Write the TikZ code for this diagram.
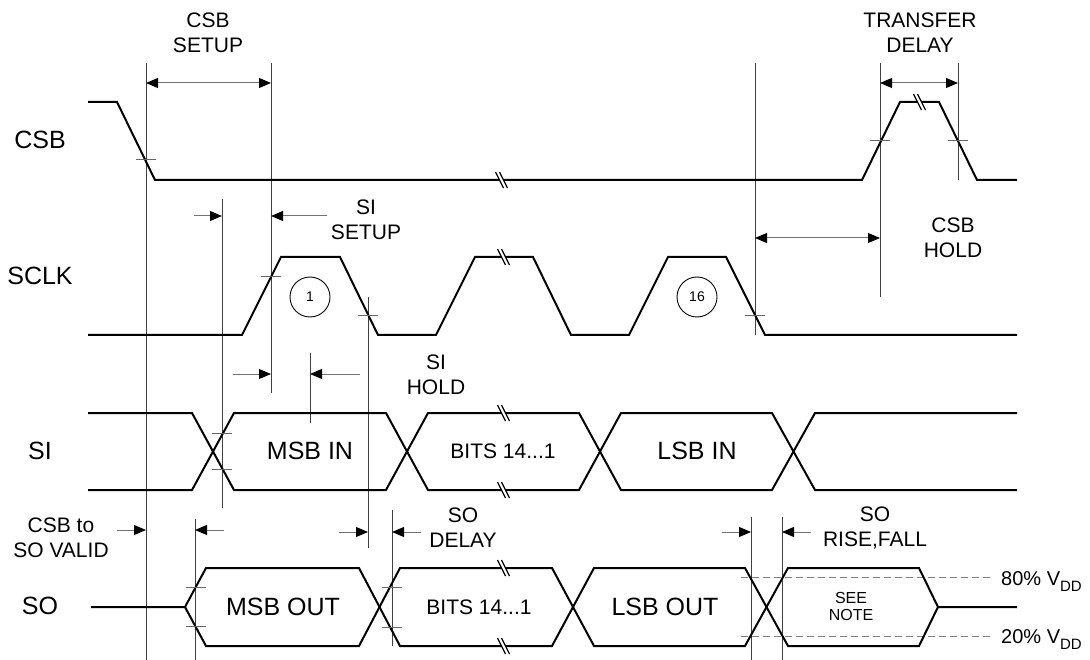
\documentclass[tikz,border=0pt]{standalone}
\usepackage{fontspec}
\setmainfont{Liberation Sans}
\usetikzlibrary{arrows.meta}
\begin{document}
\begin{tikzpicture}[x=1pt,y=-1pt,
  wave/.style={line width=2pt, black, line join=miter},
  guide/.style={line width=1pt, black!75},
  tickm/.style={line width=1pt, black!60},
  dashm/.style={line width=1pt, black!50, dash pattern=on 7pt off 4pt},
  tipk/.tip={Triangle[length=12pt,width=10pt,color=black]},
  dimarrow/.style={line width=1pt, black!55, -tipk},
  dimboth/.style={line width=1pt, black!55, tipk-tipk},
  sig/.style={font=\fontsize{25}{30}\selectfont, inner sep=0pt},
  lab/.style={font=\fontsize{21}{25}\selectfont, align=center, inner sep=0pt},
  wt/.style={font=\fontsize{25}{30}\selectfont, inner sep=0pt},
  wts/.style={font=\fontsize{21}{25}\selectfont, inner sep=0pt},
  cnum/.style={draw, circle, line width=0.9pt, minimum size=40pt, inner sep=0pt, font=\fontsize{14}{16}\selectfont},
  brk/.pic={
    \fill[white] (-6.5,-8) -- (-2.5,-8) -- (5.5,8) -- (1.5,8) -- cycle;
    \draw[line width=1.3pt] (-6.5,-8) -- (1.5,8) (-2.5,-8) -- (5.5,8);
  }
]
\useasboundingbox (0,0) rectangle (1090,660);
\fill[white] (0,0) rectangle (1090,660);

% ---- guide lines ----
\coordinate (g1t) at (146,63);  \coordinate (g1b) at (146,660);
\coordinate (g2t) at (271,63);  \coordinate (g2b) at (271,393);
\coordinate (g3t) at (222,199); \coordinate (g3b) at (222,508);
\coordinate (g4t) at (310,353); \coordinate (g4b) at (310,423);
\coordinate (g5t) at (195,519); \coordinate (g5b) at (195,660);
\coordinate (g6t) at (368,297); \coordinate (g6b) at (368,548);
\coordinate (g7t) at (392,510); \coordinate (g7b) at (392,646);
\coordinate (g8t) at (755,63);  \coordinate (g8b) at (755,335);
\coordinate (g9t) at (751,517); \coordinate (g9b) at (751,660);
\coordinate (g10t) at (782,517); \coordinate (g10b) at (782,660);
\coordinate (g11t) at (880,63); \coordinate (g11b) at (880,297);
\coordinate (g12t) at (958,63); \coordinate (g12b) at (958,180);
\foreach \g in {1,...,12} \draw[guide] (g\g t) -- (g\g b);

% ---- dashed levels ----
\draw[dashm] (741,577) -- (993,577);
\draw[dashm] (741,636) -- (993,636);

% ---- waveforms ----
\draw[wave] (88,102) -- (117,102) -- (155,180) -- (862,180) -- (900,102) -- (939,102) -- (977,180) -- (1017,180);
\draw[wave] (88,335) -- (242,335) -- (281,257) -- (340,257) -- (378,335) -- (436,335) -- (475,257) -- (533,257) -- (571,335) -- (629,335) -- (668,257) -- (726,257) -- (765,335) -- (1017,335);
\draw[wave] (88,413) -- (192,413) -- (234,490) -- (386,490) -- (428,413) -- (579,413) -- (621,490) -- (772,490) -- (815,413) -- (1017,413);
\draw[wave] (88,490) -- (192,490) -- (234,413) -- (386,413) -- (428,490) -- (579,490) -- (621,413) -- (772,413) -- (815,490) -- (1017,490);
\draw[wave] (91,607) -- (185,607) -- (206,568) -- (359,568) -- (400,646) -- (552,646) -- (594,568) -- (745,568) -- (788,646) -- (919,646) -- (938,607) -- (1017,607);
\draw[wave] (185,607) -- (206,646) -- (359,646) -- (400,568) -- (552,568) -- (594,646) -- (745,646) -- (788,568) -- (919,568) -- (938,607);

% ---- break marks ----
\pic at (502,180) {brk};
\pic at (920,102) {brk};
\pic at (504,257) {brk};
\pic at (504,413) {brk};
\pic at (504,490) {brk};
\pic at (504,568) {brk};
\pic at (504,646) {brk};

% ---- crossing ticks ----
\draw[tickm] (136,160) -- (156,160);
\draw[tickm] (870,141) -- (890,141);
\draw[tickm] (948,141) -- (968,141);
\draw[tickm] (261,277) -- (281,277);
\draw[tickm] (358,316) -- (378,316);
\draw[tickm] (745,316) -- (765,316);
\draw[tickm] (212,433) -- (232,433);
\draw[tickm] (212,469) -- (232,469);
\draw[tickm] (186,587) -- (206,587);
\draw[tickm] (186,626) -- (206,626);
\draw[tickm] (382,587) -- (402,587);
\draw[tickm] (382,627) -- (402,627);

% ---- dimension arrows ----
\draw[dimboth] (146,83) -- (271,83);
\draw[dimboth] (880,83) -- (958,83);
\draw[dimboth] (755,238) -- (880,238);
\draw[dimarrow] (194,216) -- (222,216);
\draw[dimarrow] (327,216) -- (271,216);
\draw[dimarrow] (233,374) -- (271,374);
\draw[dimarrow] (360,374) -- (310,374);
\draw[dimarrow] (117,530) -- (146,530);
\draw[dimarrow] (224,530) -- (195,530);
\draw[dimarrow] (339,532) -- (368,532);
\draw[dimarrow] (421,532) -- (392,532);
\draw[dimarrow] (722,532) -- (751,532);
\draw[dimarrow] (811,532) -- (782,532);

% ---- clock numbers ----
\node[cnum] (c1) at (310,297) {1};
\node[cnum] (c16) at (697,297) {16};

% ---- signal names ----
\node[sig] (lcsb) at (40,140) {CSB};
\node[sig] (lsclk) at (40,276) {SCLK};
\node[sig] (lsi) at (40,451) {SI};
\node[sig] (lso) at (40,606) {SO};

% ---- timing labels ----
\node[lab] (tcsbsetup) at (208,33) {CSB\\SETUP};
\node[lab] (ttd) at (920,33) {TRANSFER\\DELAY};
\node[lab] (tsisetup) at (366,220) {SI\\SETUP};
\node[lab] (tcsbhold) at (953,238) {CSB\\HOLD};
\node[lab] (tsihold) at (436,375) {SI\\HOLD};
\node[lab] (tcsbso) at (61,538) {CSB to\\SO VALID};
\node[lab] (tsodelay) at (463,528) {SO\\DELAY};
\node[lab] (tsorf) at (875,528) {SO\\RISE,FALL};

% ---- data labels ----
\node[wt] (msbin) at (310,451) {MSB IN};
\node[wts] (bitsin) at (503,451) {BITS 14...1};
\node[wt] (lsbin) at (697,451) {LSB IN};
\node[wt] (msbout) at (283,607) {MSB OUT};
\node[wts] (bitsout) at (479,607) {BITS 14...1};
\node[wt] (lsbout) at (665,607) {LSB OUT};
\node[font=\fontsize{16}{17}\selectfont, align=center, inner sep=0pt] (note) at (851,606) {SEE\\NOTE};

% ---- level labels ----
\node[anchor=base west, inner sep=0pt, font=\fontsize{20}{24}\selectfont] (p80) at (1001,585) {80\% V\raisebox{-6pt}{\fontsize{15}{15}\selectfont DD}};
\node[anchor=base west, inner sep=0pt, font=\fontsize{20}{24}\selectfont] (p20) at (1001,643) {20\% V\raisebox{-6pt}{\fontsize{15}{15}\selectfont DD}};
\end{tikzpicture}
\end{document}
